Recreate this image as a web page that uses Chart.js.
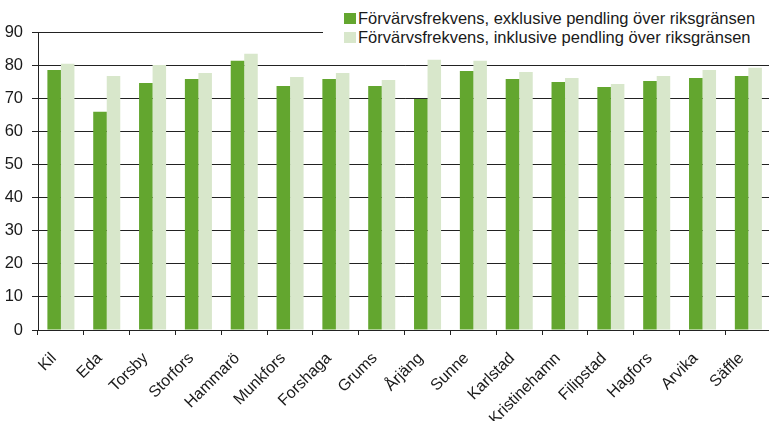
<!DOCTYPE html>
<html lang="sv">
  <head>
    <meta charset="UTF-8" />
    <title>Förvärvsfrekvens</title>
    <style>
      html,
      body {
        margin: 0;
        padding: 0;
        background: #fff;
        overflow: hidden;
      }
      .wrap {
        position: relative;
        width: 769px;
        height: 421px;
        overflow: hidden;
      }
      .chart-box {
        position: absolute;
        left: 0;
        top: 0;
        width: 776px;
        height: 421px;
      }
      .legend {
        position: absolute;
        left: 323px;
        top: 8px;
        width: 446px;
        height: 42px;
        background: #fff;
        font-family: "Liberation Sans", Arial, sans-serif;
        font-size: 16.5px;
        color: #1a1a1a;
      }
      .legend div {
        position: absolute;
        left: 35px;
        white-space: nowrap;
        height: 19px;
        line-height: 19px;
      }
      .legend span {
        position: absolute;
        left: -14px;
        top: 4px;
        width: 12px;
        height: 11px;
      }
    </style>
    <script src="https://cdn.jsdelivr.net/npm/chart.js"></script>
  </head>
  <body>
    <div class="wrap">
      <div class="chart-box">
        <canvas id="chart" width="776" height="421"></canvas>
      </div>
      <div class="legend">
        <div style="top: 1px"><span style="background: #63a62f"></span>Förvärvsfrekvens, exklusive pendling över riksgränsen</div>
        <div style="top: 20px"><span style="background: #d8e7cb"></span>Förvärvsfrekvens, inklusive pendling över riksgränsen</div>
      </div>
    </div>
    <script>
      const kommuner = [
        "Kil", "Eda", "Torsby", "Storfors", "Hammarö", "Munkfors", "Forshaga", "Grums",
        "Årjäng", "Sunne", "Karlstad", "Kristinehamn", "Filipstad", "Hagfors", "Arvika", "Säffle",
      ];
      const exklusive = [78.5, 65.9, 74.6, 75.8, 81.3, 73.7, 75.8, 73.7, 69.8, 78.2, 75.8, 74.9, 73.4, 75.2, 76.1, 76.7];
      const inklusive = [80.4, 76.7, 80.0, 77.6, 83.4, 76.4, 77.6, 75.5, 81.6, 81.3, 77.9, 76.1, 74.3, 76.7, 78.5, 79.2];
      const yTicks = [0, 10, 20, 30, 40, 50, 60, 70, 80, 90];

      const seriesNames = [
        "Förvärvsfrekvens, exklusive pendling över riksgränsen",
        "Förvärvsfrekvens, inklusive pendling över riksgränsen",
      ];

      const fontFamily = "'Liberation Sans', Arial, sans-serif";

      new Chart(document.getElementById("chart"), {
        type: "bar",
        data: {
          labels: kommuner,
          datasets: [
            {
              label: seriesNames[0],
              data: exklusive,
              backgroundColor: "#63a62f",
              barPercentage: 1,
              categoryPercentage: 0.59,
            },
            {
              label: seriesNames[1],
              data: inklusive,
              backgroundColor: "#d8e7cb",
              barPercentage: 1,
              categoryPercentage: 0.59,
            },
          ],
        },
        options: {
          responsive: false,
          animation: false,
          layout: { padding: { top: 32, right: 2, left: 0, bottom: 0 } },
          plugins: {
            legend: { display: false },
            tooltip: { enabled: false },
          },
          scales: {
            x: {
              grid: {
                drawOnChartArea: false,
                drawTicks: true,
                tickLength: 5,
                tickColor: "#222",
              },
              border: { display: true, color: "#222", width: 1 },
              ticks: {
                color: "#1a1a1a",
                font: { family: fontFamily, size: 16 },
                minRotation: 45,
                maxRotation: 45,
                padding: 14,
                labelOffset: -7,
                autoSkip: false,
              },
              afterFit: (scale) => {
                scale.height = 91;
              },
            },
            y: {
              min: 0,
              max: 90,
              afterBuildTicks: (scale) => {
                scale.ticks = yTicks.map((v) => ({ value: v }));
              },
              grid: {
                color: "#222",
                lineWidth: 1,
                tickLength: 6,
                tickColor: "#222",
              },
              border: { display: true, color: "#222", width: 1 },
              ticks: {
                color: "#1a1a1a",
                font: { family: fontFamily, size: 16.5 },
                padding: 9,
              },
              afterFit: (scale) => {
                scale.width = 38;
              },
            },
          },
        },
      });
    </script>
  </body>
</html>
